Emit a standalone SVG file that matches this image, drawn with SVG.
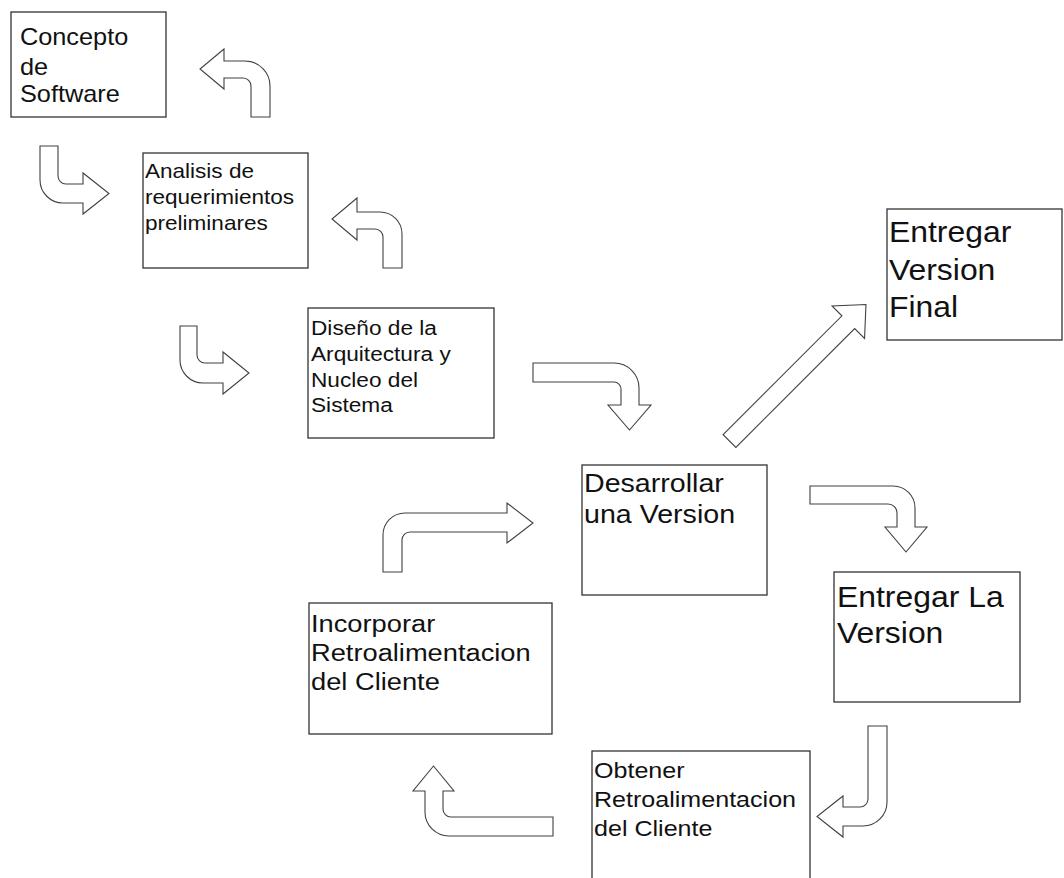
<svg xmlns="http://www.w3.org/2000/svg" width="1064" height="878" viewBox="0 0 1064 878">
  <style>
    .box { fill: #ffffff; stroke: #333333; stroke-width: 1.3; }
    .arr { fill: #ffffff; stroke: #404040; stroke-width: 1.1; stroke-linejoin: miter; }
    .lbl { font-family: "Liberation Sans", Arial, sans-serif; fill: #111111; }
  </style>
  <rect width="1064" height="878" fill="#ffffff"/>

  <!-- block arrows between the stages -->
  <g id="connectors">
    <path class="arr" d="M251,117 H270 V86 A25,25 0 0 0 245,61 H224 V49 L200,69 L224,89 V78 H243 A8,8 0 0 1 251,86 Z"/>
    <path class="arr" d="M40,146 H58 V176 A8,8 0 0 0 66,184 H83 V173 L109,193.5 L83,214 V203 H63 A23,23 0 0 1 40,180 Z"/>
    <path class="arr" d="M383,268 H402 V234 A22,22 0 0 0 380,212 H357 V198 L332,219 L357,240 V229 H375 A8,8 0 0 1 383,237 Z"/>
    <path class="arr" d="M180,326 H197 V355 A8,8 0 0 0 205,363 H223 V352 L249,373 L223,394 V383 H203 A23,23 0 0 1 180,360 Z"/>
    <path class="arr" d="M533,363 H614 A25,25 0 0 1 639,388 V405 H651 L629.5,430 L608,405 H621 V389 A7,7 0 0 0 614,382 H533 Z"/>
    <path class="arr" d="M810,486 H893 A22,22 0 0 1 915,508 V527 H927 L906,552 L885,527 H897 V513 A9,9 0 0 0 888,504 H810 Z"/>
    <path class="arr" d="M868,726 H887 V802 A24,24 0 0 1 863,826 H843 V837 L817,816.5 L843,796 V807 H860 A8,8 0 0 0 868,799 Z"/>
    <path class="arr" d="M553,817 H451 A8,8 0 0 1 443,809 V791 H454 L433.5,766 L413,791 H425 V812 A24,24 0 0 0 449,836 H553 Z"/>
    <path class="arr" d="M383,572 V535 A22,22 0 0 1 405,513 H507 V503 L533,523 L507,543 V532 H410 A8,8 0 0 0 402,540 V572 Z"/>
    <path class="arr" transform="translate(729.5,441) rotate(-45)" d="M0,-9 H168 V-23 L193,0 L168,23 V9 H0 Z"/>
  </g>

  <g id="concepto">
    <rect class="box" x="11" y="12" width="155" height="105"/>
    <text class="lbl" font-size="23" transform="translate(20,45) scale(1.1,1)">
      <tspan x="0" y="0">Concepto</tspan>
      <tspan x="0" y="30">de</tspan>
      <tspan x="0" y="57">Software</tspan>
    </text>
  </g>

  <g id="analisis">
    <rect class="box" x="143" y="153" width="165" height="115"/>
    <text class="lbl" font-size="20.5" transform="translate(145,178) scale(1.1,1)">
      <tspan x="0" y="0">Analisis de</tspan>
      <tspan x="0" y="26">requerimientos</tspan>
      <tspan x="0" y="52">preliminares</tspan>
    </text>
  </g>

  <g id="diseno">
    <rect class="box" x="308" y="308" width="186" height="130"/>
    <text class="lbl" font-size="20.6" transform="translate(311,335) scale(1.1,1)">
      <tspan x="0" y="0">Diseño de la</tspan>
      <tspan x="0" y="26">Arquitectura y</tspan>
      <tspan x="0" y="52">Nucleo del</tspan>
      <tspan x="0" y="77">Sistema</tspan>
    </text>
  </g>

  <g id="version-final">
    <rect class="box" x="887" y="209" width="175" height="131"/>
    <text class="lbl" font-size="29" transform="translate(889,242) scale(1.1,1)">
      <tspan x="0" y="0">Entregar</tspan>
      <tspan x="0" y="38">Version</tspan>
      <tspan x="0" y="75">Final</tspan>
    </text>
  </g>

  <g id="desarrollar">
    <rect class="box" x="582" y="465" width="185" height="130"/>
    <text class="lbl" font-size="26" transform="translate(584,492) scale(1.1,1)">
      <tspan x="0" y="0">Desarrollar</tspan>
      <tspan x="0" y="31">una Version</tspan>
    </text>
  </g>

  <g id="entregar-version">
    <rect class="box" x="834" y="572" width="186" height="130"/>
    <text class="lbl" font-size="29" transform="translate(837,607) scale(1.1,1)">
      <tspan x="0" y="0">Entregar La</tspan>
      <tspan x="0" y="36">Version</tspan>
    </text>
  </g>

  <g id="incorporar">
    <rect class="box" x="309" y="603" width="243" height="131"/>
    <text class="lbl" font-size="24.8" transform="translate(311,632) scale(1.1,1)">
      <tspan x="0" y="0">Incorporar</tspan>
      <tspan x="0" y="29">Retroalimentacion</tspan>
      <tspan x="0" y="58">del Cliente</tspan>
    </text>
  </g>

  <g id="obtener">
    <rect class="box" x="592" y="751" width="218" height="140"/>
    <text class="lbl" font-size="22.8" transform="translate(594,778) scale(1.1,1)">
      <tspan x="0" y="0">Obtener</tspan>
      <tspan x="0" y="29">Retroalimentacion</tspan>
      <tspan x="0" y="58">del Cliente</tspan>
    </text>
  </g>
</svg>
